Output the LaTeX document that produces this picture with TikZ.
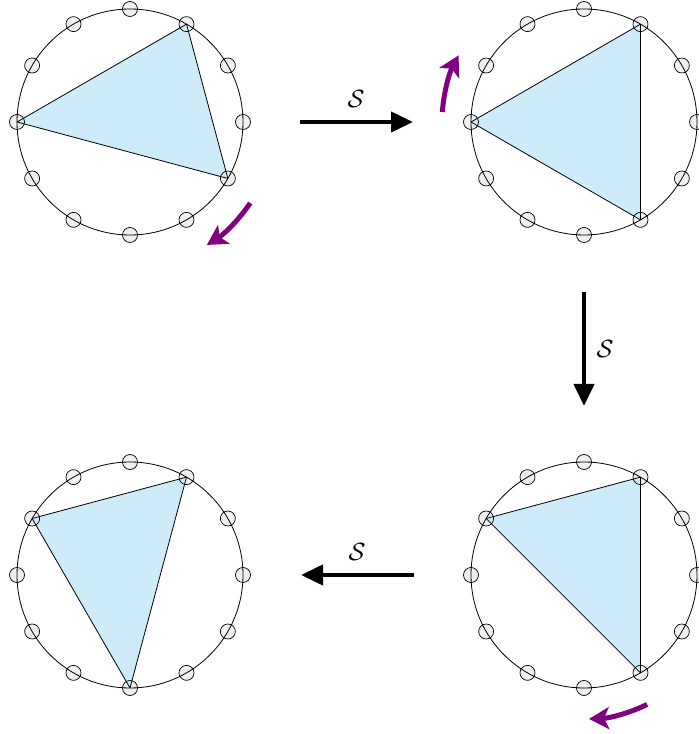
\documentclass[tikz,border=0pt]{standalone}
\usetikzlibrary{arrows.meta,calc}
\definecolor{triblue}{HTML}{CDEBF8}
\definecolor{dotgray}{HTML}{F0F0F0}
\definecolor{purp}{HTML}{800080}
\tikzset{
  bigcirc/.style={draw=black, line width=0.8pt},
  dotfill/.style={fill=dotgray},
  dotline/.style={draw=black, line width=0.7pt},
  tri/.style={fill=triblue, draw=black, line width=0.8pt, line join=round},
  mainarrow/.style={line width=4pt, -{Triangle[length=22pt,width=20pt]}},
  rotarrow/.style={draw=purp, line width=5pt, -{Stealth[length=20pt,width=22pt,inset=5pt]}},
  lbl/.style={font=\fontsize{27}{30}\selectfont, inner sep=0pt}
}
\newcommand{\wheel}[3]{%
  \coordinate (#1) at (#2,#3);
  \foreach \a in {0,30,...,330}
    \fill[dotfill] (#1) ++(\a:113) circle[radius=7.5];
  \draw[bigcirc] (#1) circle[radius=113];
}
\newcommand{\ringdots}[1]{%
  \foreach \a in {0,30,...,330}
    \draw[dotline] (#1) ++(\a:113) circle[radius=7.5];
}
\begin{document}
\begin{tikzpicture}[x=1pt,y=1pt]
\useasboundingbox (0,0) rectangle (699,734);
% top-left
\wheel{TL}{130}{612}
\filldraw[tri] ($(TL)+(180:113)$) -- ($(TL)+(60:113)$) -- ($(TL)+(-30:113)$) -- cycle;
\ringdots{TL}
% top-right
\wheel{TR}{584}{612}
\filldraw[tri] ($(TR)+(180:113)$) -- ($(TR)+(60:113)$) -- ($(TR)+(-60:113)$) -- cycle;
\ringdots{TR}
% bottom-right
\wheel{BR}{584}{159}
\filldraw[tri] ($(BR)+(150:113)$) -- ($(BR)+(60:113)$) -- ($(BR)+(-60:113)$) -- cycle;
\ringdots{BR}
% bottom-left
\wheel{BL}{130}{159}
\filldraw[tri] ($(BL)+(150:113)$) -- ($(BL)+(60:113)$) -- ($(BL)+(-90:113)$) -- cycle;
\ringdots{BL}
% main arrows
\coordinate (a1s) at (300,612); \coordinate (a1e) at (413,612);
\coordinate (a2s) at (584,442); \coordinate (a2e) at (584,328);
\coordinate (a3s) at (414,159); \coordinate (a3e) at (301,159);
\draw[mainarrow] (a1s) -- (a1e);
\draw[mainarrow] (a2s) -- (a2e);
\draw[mainarrow] (a3s) -- (a3e);
\node[lbl] (l1) at (356,635) {$\mathcal{S}$};
\node[lbl] (l2) at (605,385) {$\mathcal{S}$};
\node[lbl] (l3) at (357,182) {$\mathcal{S}$};
% rotation arrows
\draw[rotarrow] (TL) ++(-34:145) arc[start angle=-34, end angle=-58, radius=145];
\draw[rotarrow] (TR) ++(176:142) arc[start angle=176, end angle=152, radius=142];
\draw[rotarrow] (BR) ++(-64:144) arc[start angle=-64, end angle=-88, radius=144];
\end{tikzpicture}
\end{document}
